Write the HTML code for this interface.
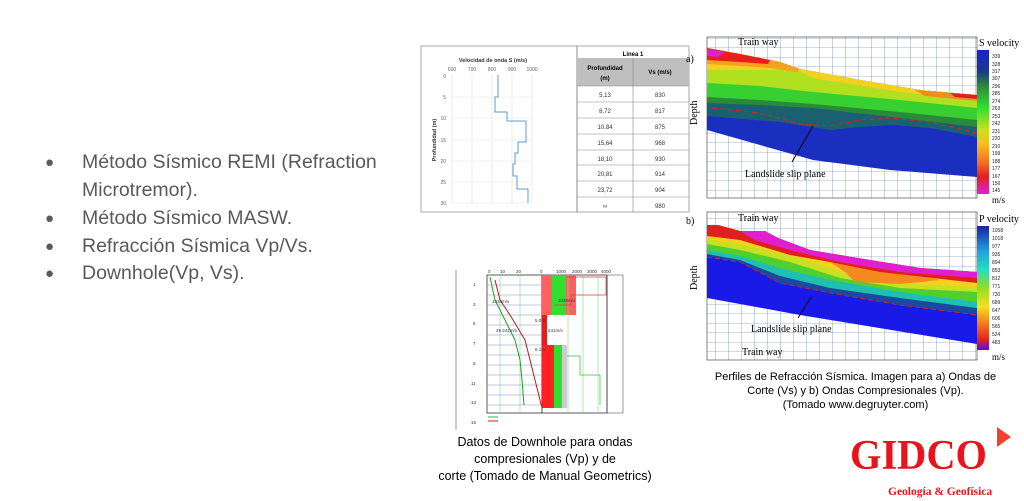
<!DOCTYPE html>
<html><head><meta charset="utf-8"><style>
body{margin:0;width:1024px;height:501px;background:#fff;position:relative;overflow:hidden;font-family:"Liberation Sans",sans-serif}
.b{position:absolute;left:45px;color:#595959;font-size:19.5px}
.b span{position:absolute;left:0;font-size:15px;top:3px}
.b div{position:absolute;left:37px;white-space:nowrap}
.cap{position:absolute;text-align:center;font-size:12.5px;color:#000;line-height:17px}
</style></head><body>
<div class="b" style="top:151px"><span>●</span><div>Método Sísmico REMI (Refraction</div></div>
<div class="b" style="top:179px"><div>Microtremor).</div></div>
<div class="b" style="top:207px"><span>●</span><div>Método Sísmico MASW.</div></div>
<div class="b" style="top:235px"><span>●</span><div>Refracción Sísmica Vp/Vs.</div></div>
<div class="b" style="top:262px"><span>●</span><div>Downhole(Vp, Vs).</div></div>

<svg style="position:absolute;left:0;top:0" width="1024" height="501" font-family="Liberation Sans,sans-serif">
<rect x="421" y="46" width="268" height="166" fill="#fff" stroke="#aaa"/>
<line x1="577" y1="46" x2="577" y2="212" stroke="#888"/>
<text x="493" y="62" font-size="5.5" font-weight="bold" text-anchor="middle" fill="#333">Velocidad de onda S (m/s)</text>
<g font-size="5" fill="#666" text-anchor="middle"><text x="452" y="71">600</text><text x="472" y="71">700</text><text x="492" y="71">800</text><text x="512" y="71">900</text><text x="532" y="71">1000</text></g>
<g stroke="#e3e3e3" stroke-width="0.6"><line x1="452" y1="75" x2="452" y2="203"/><line x1="472" y1="75" x2="472" y2="203"/><line x1="492" y1="75" x2="492" y2="203"/><line x1="512" y1="75" x2="512" y2="203"/><line x1="532" y1="75" x2="532" y2="203"/>
<line x1="452" y1="97" x2="532" y2="97"/><line x1="452" y1="118" x2="532" y2="118"/><line x1="452" y1="140" x2="532" y2="140"/><line x1="452" y1="161" x2="532" y2="161"/><line x1="452" y1="182" x2="532" y2="182"/><line x1="452" y1="203" x2="532" y2="203"/></g>
<g font-size="5" fill="#666" text-anchor="end"><text x="446" y="78">0</text><text x="446" y="99">5</text><text x="446" y="120">10</text><text x="446" y="142">15</text><text x="446" y="163">20</text><text x="446" y="184">25</text><text x="446" y="205">30</text></g>
<text transform="translate(436,140) rotate(-90)" font-size="5.5" font-weight="bold" fill="#333" text-anchor="middle">Profundidad (m)</text>
<polyline fill="none" stroke="#5b9bd5" stroke-width="1" points="498,75 498,97 495,97 495,112 507,112 507,121 526,121 526,142 518,142 518,153 515,153 515,164 513,164 513,176 517,176 517,189 528,189 528,203"/>
<text x="633" y="56" font-size="6" font-weight="bold" text-anchor="middle">Linea 1</text>
<rect x="577" y="58" width="112" height="28" fill="#bfbfbf"/>
<line x1="633" y1="58" x2="633" y2="212" stroke="#888" stroke-width="0.6"/>
<text x="605" y="70" font-size="6" font-weight="bold" text-anchor="middle">Profundidad</text><text x="605" y="80" font-size="6" font-weight="bold" text-anchor="middle">(m)</text><text x="660" y="74" font-size="6" font-weight="bold" text-anchor="middle">Vs (m/s)</text>
<g stroke="#888" stroke-width="0.6"><line x1="577" y1="86" x2="689" y2="86"/><line x1="577" y1="102" x2="689" y2="102"/><line x1="577" y1="118" x2="689" y2="118"/><line x1="577" y1="134" x2="689" y2="134"/><line x1="577" y1="150" x2="689" y2="150"/><line x1="577" y1="165" x2="689" y2="165"/><line x1="577" y1="181" x2="689" y2="181"/><line x1="577" y1="197" x2="689" y2="197"/></g>
<g font-size="6" fill="#333" text-anchor="middle">
<text x="605" y="97">5,13</text><text x="660" y="97">830</text>
<text x="605" y="113">8,72</text><text x="660" y="113">817</text>
<text x="605" y="129">10,84</text><text x="660" y="129">875</text>
<text x="605" y="145">15,64</text><text x="660" y="145">968</text>
<text x="605" y="161">18,10</text><text x="660" y="161">930</text>
<text x="605" y="176">20,81</text><text x="660" y="176">914</text>
<text x="605" y="192">23,72</text><text x="660" y="192">904</text>
<text x="605" y="208">∞</text><text x="660" y="208">980</text></g>

<defs><pattern id="g" width="13" height="9.5" patternUnits="userSpaceOnUse"><path d="M0 0V9.5M0 0H13" stroke="#4a6a9a" stroke-width="0.6" fill="none"/></pattern>
<linearGradient id="cs" x1="0" y1="0" x2="0" y2="1"><stop offset="0" stop-color="#1a20d0"/><stop offset="0.15" stop-color="#1a3a8a"/><stop offset="0.25" stop-color="#2a8a3a"/><stop offset="0.4" stop-color="#30e030"/><stop offset="0.55" stop-color="#c8e020"/><stop offset="0.65" stop-color="#f5c020"/><stop offset="0.78" stop-color="#f57020"/><stop offset="0.88" stop-color="#e02020"/><stop offset="1" stop-color="#e020e0"/></linearGradient>
<linearGradient id="cp" x1="0" y1="0" x2="0" y2="1"><stop offset="0" stop-color="#1a20a0"/><stop offset="0.2" stop-color="#20a0e0"/><stop offset="0.35" stop-color="#20e0c0"/><stop offset="0.5" stop-color="#90e020"/><stop offset="0.65" stop-color="#f5e020"/><stop offset="0.8" stop-color="#f57020"/><stop offset="0.92" stop-color="#e02020"/><stop offset="1" stop-color="#5010e0"/></linearGradient></defs>

<!-- Plot a -->
<rect x="707" y="37" width="270" height="161" fill="url(#g)"/>
<rect x="707" y="37" width="270" height="161" fill="none" stroke="#333" stroke-width="0.6"/>
<polygon points="707,48 740,54 780,62 800,69 860,80 920,90 977,95 977,177 890,170 813,160 760,145 707,130" fill="#1a2fc0"/>
<polygon points="707,48 740,54 780,62 800,69 860,80 920,90 977,95 977,137 930,128 893,125 860,127 830,130 780,122 707,116" fill="#1a6070"/>
<polygon points="707,48 740,54 780,62 800,69 860,80 920,90 977,95 977,127 900,118 813,108 760,105 707,103" fill="#2a8a3a"/>
<polygon points="707,48 740,54 780,62 800,69 860,80 920,90 977,95 977,120 900,112 813,104 760,100 707,97" fill="#38d030"/>
<polygon points="707,48 740,54 780,62 800,69 860,80 920,90 977,95 977,108 900,100 813,92 760,86 707,83" fill="#b0e020"/>
<polygon points="707,48 740,54 780,62 800,69 860,80 920,90 977,95 977,100 900,92 813,78 797,70 760,70 707,70" fill="#f5d020"/>
<polygon points="707,48 740,54 780,62 800,69 797,72 770,68 740,66 707,64" fill="#f5a020"/>
<polygon points="915,90 977,95 977,101 925,96" fill="#f58a20"/>
<polygon points="950,93 977,95 977,99 955,97" fill="#e02020"/>
<polygon points="707,48 740,54 770,60 768,64 740,62 707,60" fill="#e8201c"/>
<polygon points="707,49 725,52 718,57 707,56" fill="#e020d0"/>
<polyline points="712,108 760,113 800,124 830,126 860,120 890,118 930,122 977,133" fill="none" stroke="#e02020" stroke-width="1" stroke-dasharray="5,3"/>
<line x1="813" y1="126" x2="792" y2="162" stroke="#000" stroke-width="1"/>
<text x="738" y="45" font-size="10" font-family="Liberation Serif">Train way</text>
<text x="745" y="177" font-size="10" font-family="Liberation Serif">Landslide slip plane</text>
<text x="686" y="62" font-size="10" font-family="Liberation Serif">a)</text>
<text transform="translate(697,125) rotate(-90)" font-size="10" font-family="Liberation Serif">Depth</text>
<text x="979" y="46" font-size="10" font-family="Liberation Serif">S velocity</text>
<text x="992" y="203" font-size="9" font-family="Liberation Serif">m/s</text>
<rect x="977" y="50" width="12" height="144" fill="url(#cs)"/>
<g font-size="5" fill="#222"><text x="992" y="58">339</text><text x="992" y="66">328</text><text x="992" y="73">317</text><text x="992" y="80">307</text><text x="992" y="88">296</text><text x="992" y="95">285</text><text x="992" y="103">274</text><text x="992" y="110">263</text><text x="992" y="118">253</text><text x="992" y="125">242</text><text x="992" y="133">231</text><text x="992" y="140">220</text><text x="992" y="148">210</text><text x="992" y="155">199</text><text x="992" y="163">188</text><text x="992" y="170">177</text><text x="992" y="178">167</text><text x="992" y="185">156</text><text x="992" y="192">145</text></g>

<!-- Plot b -->
<rect x="707" y="212" width="270" height="148" fill="url(#g)"/>
<rect x="707" y="212" width="270" height="148" fill="none" stroke="#333" stroke-width="0.6"/>
<polygon points="707,225 718,225 740,231 765,231 778,238 810,250 870,260 920,268 977,272 977,344 800,315 707,298" fill="#1a1ae8"/>
<polygon points="707,225 718,225 740,231 765,231 778,238 810,250 870,260 920,268 977,272 977,315 900,305 830,293 780,283 740,262 707,256" fill="#1a4aa0"/>
<polygon points="707,225 718,225 740,231 765,231 778,238 810,250 870,260 920,268 977,272 977,308 900,298 830,288 780,276 740,260 707,254" fill="#20c0b0"/>
<polygon points="707,225 718,225 740,231 765,231 778,238 810,250 870,260 920,268 977,272 977,302 900,292 830,280 780,268 740,256 707,250" fill="#50d030"/>
<polygon points="707,225 718,225 740,231 765,231 778,238 810,250 870,260 920,268 977,272 977,292 900,288 840,278 790,262 740,250 707,244" fill="#c8e020"/>
<polygon points="707,225 718,225 740,231 765,231 778,238 810,250 870,260 920,268 977,272 977,287 920,285 850,275 800,258 740,244 707,239" fill="#f5d020"/>
<polygon points="830,262 850,262 870,268 900,270 940,280 900,284 855,282 845,272" fill="#f58a20"/>
<polygon points="707,225 718,225 740,231 765,231 778,238 810,250 870,260 920,268 977,272 977,283 880,272 830,262 790,255 740,240 707,236" fill="#e02020"/>
<polygon points="740,231 765,231 778,238 810,250 870,260 920,268 977,272 977,278 900,272 840,262 790,250 755,240" fill="#e020d0"/>
<polyline points="707,257 740,262 780,283 830,293 900,305 977,315" fill="none" stroke="#d02020" stroke-width="1" stroke-dasharray="5,3"/>
<line x1="812" y1="296" x2="798" y2="318" stroke="#000"/>
<text x="738" y="221" font-size="10" font-family="Liberation Serif">Train way</text>
<text x="751" y="332" font-size="10" font-family="Liberation Serif">Landslide slip plane</text>
<text x="742" y="355" font-size="10" font-family="Liberation Serif">Train way</text>
<text x="686" y="224" font-size="10" font-family="Liberation Serif">b)</text>
<text transform="translate(697,290) rotate(-90)" font-size="10" font-family="Liberation Serif">Depth</text>
<text x="979" y="222" font-size="10" font-family="Liberation Serif">P velocity</text>
<text x="992" y="360" font-size="9" font-family="Liberation Serif">m/s</text>
<rect x="977" y="226" width="12" height="124" fill="url(#cp)"/>
<g font-size="5" fill="#222"><text x="992" y="232">1058</text><text x="992" y="240">1018</text><text x="992" y="248">977</text><text x="992" y="256">935</text><text x="992" y="264">894</text><text x="992" y="272">853</text><text x="992" y="280">812</text><text x="992" y="288">771</text><text x="992" y="296">730</text><text x="992" y="304">689</text><text x="992" y="312">647</text><text x="992" y="320">606</text><text x="992" y="328">565</text><text x="992" y="336">524</text><text x="992" y="344">483</text></g>

<!-- Downhole -->
<line x1="456" y1="270" x2="456" y2="430" stroke="#ccc" stroke-width="2"/>
<rect x="487" y="275" width="55" height="138" fill="#fff" stroke="#333" stroke-width="0.8"/>
<rect x="542" y="275" width="65" height="138" fill="#fff" stroke="#333" stroke-width="0.8"/>
<rect x="542" y="275" width="34" height="40" fill="#ff6060"/><rect x="552" y="275" width="14" height="40" fill="#30e030"/>
<rect x="542" y="315" width="5" height="30" fill="#e02020"/>
<rect x="542" y="345" width="12" height="63" fill="#ff2020"/><rect x="554" y="345" width="8" height="63" fill="#30e030"/><rect x="562" y="345" width="5" height="63" fill="#ccc"/>
<g stroke="#7ed89a" stroke-width="0.6"><line x1="500" y1="275" x2="500" y2="413"/><line x1="520" y1="275" x2="520" y2="413"/><line x1="568" y1="275" x2="568" y2="413"/><line x1="583" y1="275" x2="583" y2="413"/><line x1="598" y1="275" x2="598" y2="413"/></g>
<g stroke="#8c8cc8" stroke-width="0.5"><line x1="487" y1="285" x2="542" y2="285"/><line x1="487" y1="295" x2="542" y2="295"/><line x1="487" y1="305" x2="542" y2="305"/><line x1="487" y1="315" x2="542" y2="315"/><line x1="487" y1="325" x2="542" y2="325"/><line x1="487" y1="335" x2="542" y2="335"/><line x1="487" y1="345" x2="542" y2="345"/><line x1="487" y1="355" x2="542" y2="355"/><line x1="487" y1="365" x2="542" y2="365"/><line x1="487" y1="375" x2="542" y2="375"/><line x1="487" y1="385" x2="542" y2="385"/><line x1="487" y1="395" x2="542" y2="395"/><line x1="487" y1="405" x2="542" y2="405"/></g>
<polyline points="490,277 495,300 505,320 515,340 520,360 522,380 524,405" fill="none" stroke="#20a020" stroke-width="1"/>
<polyline points="495,280 500,300 510,315 525,340 535,380 542,408" fill="none" stroke="#b02020" stroke-width="1"/>
<polyline points="566,277 606,277 606,295 571,295 571,305 555,305" fill="none" stroke="#d04040" stroke-width="0.7"/>
<polyline points="567,356 580,356 580,375 600,375 600,405" fill="none" stroke="#30c030" stroke-width="0.7"/>
<rect x="607" y="275" width="16" height="138" fill="none" stroke="#333" stroke-width="0.5"/>
<g font-size="4.5" fill="#333"><text x="488" y="273">0</text><text x="500" y="273">10</text><text x="516" y="273">20</text><text x="540" y="273">0</text><text x="556" y="273">1000</text><text x="572" y="273">2000</text><text x="587" y="273">3000</text><text x="601" y="273">4000</text>
<text x="473" y="286">1</text><text x="473" y="306">3</text><text x="473" y="325">5</text><text x="473" y="345">7</text><text x="473" y="365">9</text><text x="471" y="385">11</text><text x="471" y="404">13</text><text x="471" y="424">15</text>
<text x="492" y="303">1033m/s</text><text x="558" y="302">1038m/s</text><text x="496" y="332">29.241m/s</text><text x="548" y="332">241m/s</text><text x="535" y="322">5.0m</text><text x="535" y="351">8.1m</text></g>
<line x1="488" y1="417" x2="498" y2="417" stroke="#20c020"/><line x1="488" y1="421" x2="498" y2="421" stroke="#d02020"/>

<!-- Logo -->
<text x="850" y="469" font-size="42" font-weight="bold" fill="#e8141c" font-family="Liberation Serif" textLength="137" lengthAdjust="spacingAndGlyphs">GIDCO</text>
<polygon points="997,427 1011,437 997,447" fill="#f04030"/>
<text x="888" y="495" font-size="11.5" font-weight="bold" fill="#e8141c" font-family="Liberation Serif">Geología &amp; Geofísica</text>
</svg>
<div class="cap" style="left:683px;top:370px;width:345px;font-size:11px;line-height:14px">Perfiles de Refracción Sísmica. Imagen para a) Ondas de<br>Corte (Vs) y b) Ondas Compresionales (Vp).<br>(Tomado www.degruyter.com)</div>
<div class="cap" style="left:400px;top:434px;width:290px">Datos de Downhole para ondas<br>compresionales (Vp) y de<br>corte (Tomado de Manual Geometrics)</div>
</body></html>
